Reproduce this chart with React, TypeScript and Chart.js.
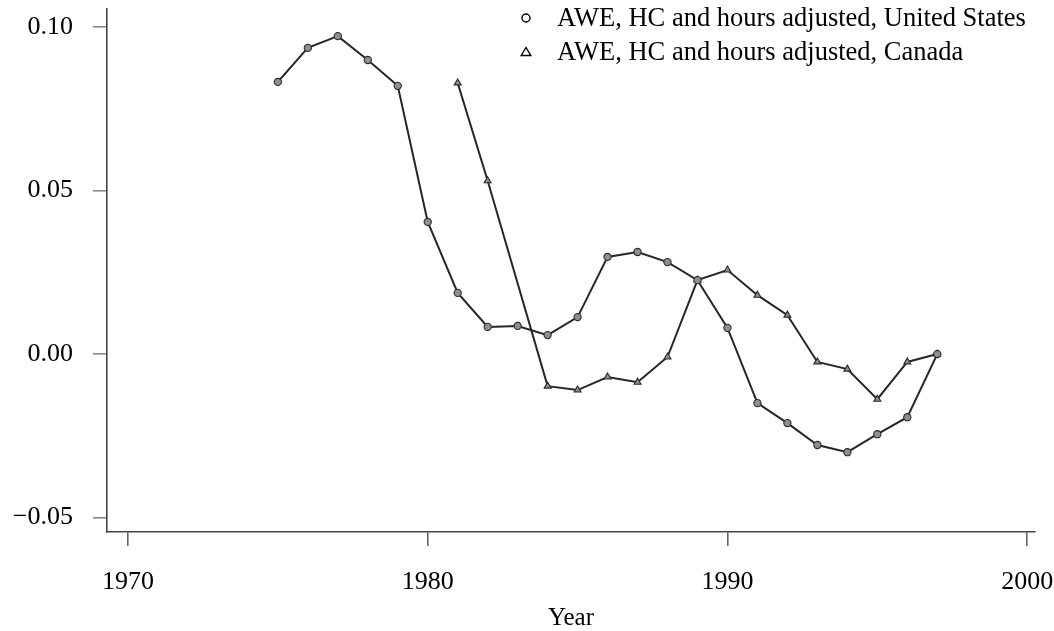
import React, { useEffect, useRef } from "react";
import { Chart, registerables } from "chart.js";

Chart.register(...registerables);

// ---- Data ----
const usYears = [1975, 1976, 1977, 1978, 1979, 1980, 1981, 1982, 1983, 1984, 1985, 1986, 1987, 1988, 1989, 1990, 1991, 1992, 1993, 1994, 1995, 1996, 1997];
const usValues = [0.0832, 0.0936, 0.0972, 0.0899, 0.082, 0.0404, 0.0187, 0.0083, 0.0086, 0.0058, 0.0113, 0.0297, 0.0312, 0.0281, 0.0226, 0.008, -0.015, -0.0211, -0.0278, -0.03, -0.0245, -0.0193, 0.0];

const caYears = [1981, 1982, 1984, 1985, 1986, 1987, 1988, 1989, 1990, 1991, 1992, 1993, 1994, 1995, 1996, 1997];
const caValues = [0.0829, 0.053, -0.0098, -0.011, -0.007, -0.0086, -0.0009, 0.0226, 0.0257, 0.018, 0.0119, -0.0024, -0.0046, -0.0138, -0.0024, 0.0];

const seriesLabels = [
  "AWE, HC and hours adjusted, United States",
  "AWE, HC and hours adjusted, Canada",
];
const seriesMarkers = ["circle", "triangle"];
const xTicks = [1970, 1980, 1990, 2000];
const yTicks = [-0.05, 0.0, 0.05, 0.1];
const xTitle = "Year";

const FONT = "'Liberation Serif', 'Times New Roman', serif";

const cornerLegend = {
  id: "cornerLegend",
  afterDraw(chart: any) {
    const ctx = chart.ctx as CanvasRenderingContext2D;
    ctx.save();
    chart.data.datasets.forEach((ds: any, i: number) => {
      const y = 18 + i * 34;
      const mx = 526;
      ctx.strokeStyle = "#000";
      ctx.lineWidth = 1.4;
      ctx.beginPath();
      if (ds.pointStyle === "triangle") {
        ctx.moveTo(mx, y - 4.5);
        ctx.lineTo(mx + 4.8, y + 3.5);
        ctx.lineTo(mx - 4.8, y + 3.5);
        ctx.closePath();
      } else {
        ctx.arc(mx, y, 4, 0, Math.PI * 2);
      }
      ctx.stroke();
      ctx.fillStyle = "#000";
      ctx.font = `26.5px ${FONT}`;
      ctx.textBaseline = "middle";
      ctx.textAlign = "left";
      ctx.fillText(ds.label, 557, y + 1);
    });
    ctx.restore();
  },
};

const zeroPad = (s: any) => {
  s.paddingLeft = 0;
  s.paddingRight = 0;
  s.paddingTop = 0;
  s.paddingBottom = 0;
};

export default function App() {
  const canvasRef = useRef<HTMLCanvasElement | null>(null);

  useEffect(() => {
    const canvas = canvasRef.current;
    if (!canvas) return;
    const mk = (years: number[], vals: number[]) => years.map((x, i) => ({ x, y: vals[i] }));
    const dsStyle = {
      borderColor: "#262626",
      borderWidth: 2,
      pointRadius: 3.6,
      pointBackgroundColor: "#8f8f8f",
      pointBorderColor: "#2a2a2a",
      pointBorderWidth: 1.1,
      tension: 0,
      fill: false,
    };
    const chart = new Chart(canvas, {
      type: "line",
      data: {
        datasets: [
          { label: seriesLabels[0], data: mk(usYears, usValues), pointStyle: seriesMarkers[0] as any, ...dsStyle },
          { label: seriesLabels[1], data: mk(caYears, caValues), pointStyle: seriesMarkers[1] as any, ...dsStyle, pointRadius: 4 },
        ],
      },
      options: {
        animation: false,
        responsive: false,
        devicePixelRatio: 1,
        layout: { padding: { left: 0, right: 19, top: 9, bottom: 0 } },
        plugins: {
          legend: { display: false },
          tooltip: { enabled: false },
        },
        scales: {
          x: {
            type: "linear",
            min: 1969.3,
            max: 2000.26,
            afterFit: (s: any) => {
              s.height = 99;
              zeroPad(s);
            },
            afterBuildTicks: (s: any) => {
              s.ticks = xTicks.map((v) => ({ value: v }));
            },
            border: { display: true, color: "#444", width: 1.6 },
            grid: { drawOnChartArea: false, drawTicks: true, tickLength: 14, tickColor: "#666", lineWidth: 1.6 },
            ticks: {
              padding: 21,
              color: "#000",
              font: { family: FONT, size: 26 },
              maxRotation: 0,
              callback: (v: any) => String(v),
            },
            title: {
              display: true,
              text: xTitle,
              color: "#000",
              font: { family: FONT, size: 25, lineHeight: 1 },
              padding: { top: 0, bottom: 0 },
            },
          },
          y: {
            type: "linear",
            min: -0.0544,
            max: 0.1055,
            afterFit: (s: any) => {
              s.width = 107;
              zeroPad(s);
            },
            afterBuildTicks: (s: any) => {
              s.ticks = yTicks.map((v) => ({ value: v }));
            },
            border: { display: true, color: "#444", width: 1.6 },
            grid: { drawOnChartArea: false, drawTicks: true, tickLength: 14, tickColor: "#888", lineWidth: 1.6 },
            ticks: {
              padding: 20,
              color: "#000",
              font: { family: FONT, size: 26 },
              callback: (v: any) => Number(v).toFixed(2).replace("-", "\u2212"),
            },
          },
        },
      },
      plugins: [cornerLegend],
    });
    return () => chart.destroy();
  }, []);

  return (
    <div style={{ position: "fixed", left: 0, top: 0, width: 1054, height: 631, background: "#fff" }}>
      <canvas ref={canvasRef} width={1054} height={631} style={{ display: "block" }} />
    </div>
  );
}
